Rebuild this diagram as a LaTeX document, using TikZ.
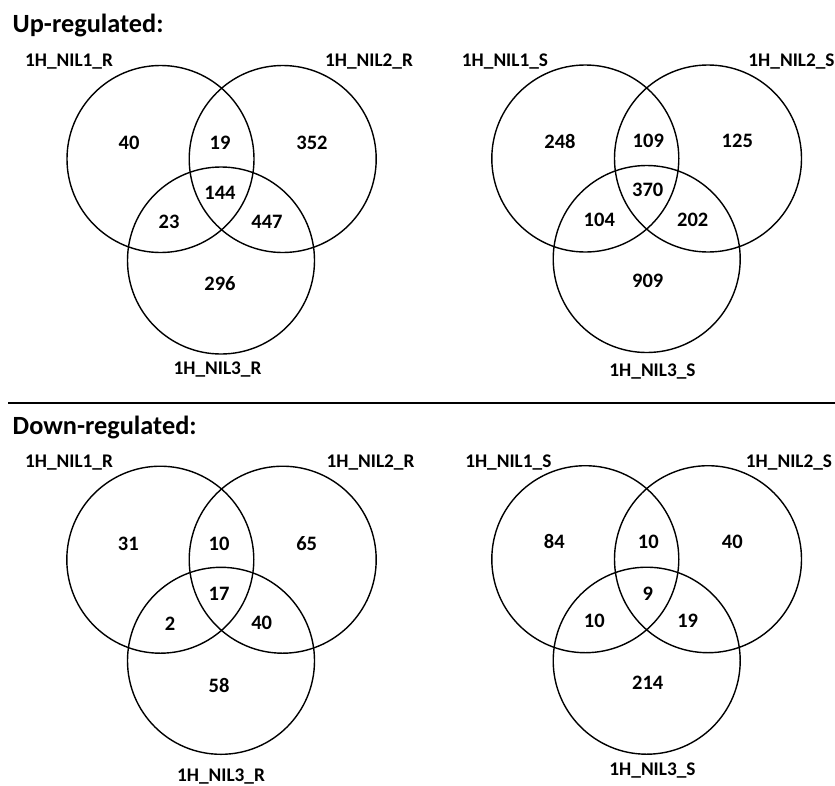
\documentclass[tikz,border=0pt]{standalone}
\usepackage{fontspec}
\setmainfont{Carlito}
\begin{document}
\begin{tikzpicture}[x=1pt,y=-1pt,
  vc/.style={circle,draw=black,line width=1.4pt,minimum size=187pt,inner sep=0pt},
  lbl/.style={font=\fontsize{19.3}{19.3}\selectfont\bfseries,inner sep=0pt,text=black},
  num/.style={font=\fontsize{20.5}{20.5}\selectfont\bfseries,inner sep=0pt,text=black},
  head/.style={font=\fontsize{26.3}{26.3}\selectfont\bfseries,inner sep=0pt,anchor=west,text=black}]
\useasboundingbox (0,0) rectangle (835,785);
% headings
\node[head] (hup) at (12.5,25) {Up-regulated:};
\node[head] (hdown) at (12.5,427) {Down-regulated:};
\coordinate (sepL) at (8,403);
\coordinate (sepR) at (835,403);
\draw[line width=2.2pt] (sepL) -- (sepR);
% ---- Up, R
\node[vc] (ur1) at (160.5,159) {};
\node[vc] (ur2) at (282.7,159) {};
\node[vc] (ur3) at (221,260.5) {};
\node[lbl] (ur1l) at (69,62) {1H\_NIL1\_R};
\node[lbl] (ur2l) at (369,62) {1H\_NIL2\_R};
\node[lbl] (ur3l) at (217.5,370) {1H\_NIL3\_R};
\node[num] (ura) at (129,143) {40};
\node[num] (urb) at (220,143) {19};
\node[num] (urc) at (312,143) {352};
\node[num] (urd) at (220,193) {144};
\node[num] (ure) at (169,222) {23};
\node[num] (urf) at (267,222) {447};
\node[num] (urg) at (220,284) {296};
% ---- Up, S
\node[vc] (us1) at (585.3,158.5) {};
\node[vc] (us2) at (708,158.5) {};
\node[vc] (us3) at (646.7,259) {};
\node[lbl] (us1l) at (505,62) {1H\_NIL1\_S};
\node[lbl] (us2l) at (791.5,62) {1H\_NIL2\_S};
\node[lbl] (us3l) at (652.5,371.5) {1H\_NIL3\_S};
\node[num] (usa) at (560,141) {248};
\node[num] (usb) at (648.3,141) {109};
\node[num] (usc) at (737.3,141) {125};
\node[num] (usd) at (647.7,190) {370};
\node[num] (use) at (599.3,220) {104};
\node[num] (usf) at (692.7,220) {202};
\node[num] (usg) at (647.7,281) {909};
% ---- Down, R
\node[vc] (dr1) at (160.3,559.7) {};
\node[vc] (dr2) at (282.7,559.7) {};
\node[vc] (dr3) at (221,660.8) {};
\node[lbl] (dr1l) at (69,462.7) {1H\_NIL1\_R};
\node[lbl] (dr2l) at (370.5,462.7) {1H\_NIL2\_R};
\node[lbl] (dr3l) at (221,776.7) {1H\_NIL3\_R};
\node[num] (dra) at (128.3,544) {31};
\node[num] (drb) at (219,544) {10};
\node[num] (drc) at (306.7,544) {65};
\node[num] (drd) at (219,594) {17};
\node[num] (dre) at (170,623.3) {2};
\node[num] (drf) at (261.7,623.3) {40};
\node[num] (drg) at (219,685) {58};
% ---- Down, S
\node[vc] (ds1) at (585.3,559.2) {};
\node[vc] (ds2) at (708,559.2) {};
\node[vc] (ds3) at (646.7,660.7) {};
\node[lbl] (ds1l) at (508.3,462.7) {1H\_NIL1\_S};
\node[lbl] (ds2l) at (789,462.7) {1H\_NIL2\_S};
\node[lbl] (ds3l) at (652.5,771) {1H\_NIL3\_S};
\node[num] (dsa) at (554.3,541.7) {84};
\node[num] (dsb) at (648.3,541.7) {10};
\node[num] (dsc) at (732.3,541.7) {40};
\node[num] (dsd) at (647.7,594) {9};
\node[num] (dse) at (594.3,621) {10};
\node[num] (dsf) at (687.7,621) {19};
\node[num] (dsg) at (647.7,682.7) {214};
\end{tikzpicture}
\end{document}
